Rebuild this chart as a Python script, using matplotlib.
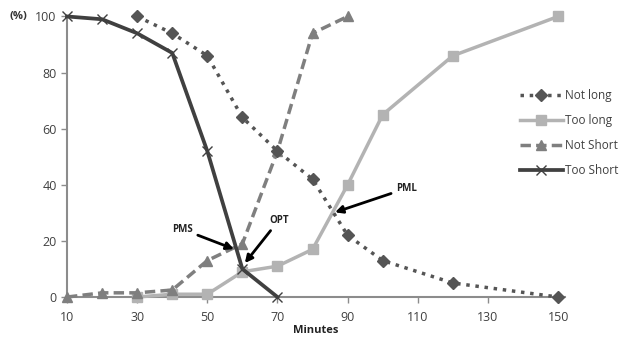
import matplotlib
matplotlib.use('Agg')
import matplotlib.pyplot as plt

plt.rcParams['font.family'] = ['Open Sans', 'DejaVu Sans']

# Minutes on the x axis, percent on y
x_not_long = [30, 40, 50, 60, 70, 80, 90, 100, 120, 150]
not_long = [100, 94, 86, 64, 52, 42, 22, 13, 5, 0]

x_too_long = [30, 40, 50, 60, 70, 80, 90, 100, 120, 150]
too_long = [0, 1, 1, 9, 11, 17, 40, 65, 86, 100]

x_not_short = [10, 20, 30, 40, 50, 60, 70, 80, 90]
not_short = [0, 1.5, 1.5, 2.5, 13, 19, 52, 94, 100]

x_too_short = [10, 20, 30, 40, 50, 60, 70]
too_short = [100, 99, 94, 87, 52, 10, 0]

x_ticks = [10, 30, 50, 70, 90, 110, 130, 150]
y_ticks = [0, 20, 40, 60, 80, 100]

fig = plt.figure(figsize=(6.25, 3.43), dpi=100)
ax = fig.add_axes([0.1072, 0.134, 0.797, 0.818])

ax.plot(x_not_long, not_long, linestyle=':', color='#555555', lw=2.5,
        marker='D', ms=6, label='Not long', clip_on=False, zorder=4)
ax.plot(x_too_long, too_long, linestyle='-', color='#b3b3b3', lw=2.5,
        marker='s', ms=7, label='Too long', clip_on=False, zorder=3)
ax.plot(x_not_short, not_short, linestyle=(0, (3, 1.5)), color='#7f7f7f', lw=2.5,
        marker='^', ms=7, label='Not Short', clip_on=False, zorder=3)
ax.plot(x_too_short, too_short, linestyle='-', color='#404040', lw=2.7,
        marker='x', ms=7, mew=1, label='Too Short', clip_on=False, zorder=5)

arrow = dict(arrowstyle='-|>', color='black', lw=2, mutation_scale=11,
             shrinkA=2, shrinkB=0)
ax.annotate('PMS', xy=(57.6, 17.1), xytext=(42.8, 24.2), ha='center', va='center',
            fontsize=7, fontweight='bold', color='#222222', arrowprops=arrow, zorder=6)
ax.annotate('OPT', xy=(60.7, 12.1), xytext=(70.4, 27.4), ha='center', va='center',
            fontsize=7, fontweight='bold', color='#222222', arrowprops=arrow, zorder=6)
ax.annotate('PML', xy=(86.4, 30.2), xytext=(106.9, 38.8), ha='center', va='center',
            fontsize=7, fontweight='bold', color='#222222', arrowprops=arrow, zorder=6)

ax.set_xlim(10, 152)
ax.set_ylim(0, 100)
ax.set_xticks(x_ticks)
ax.set_yticks(y_ticks)
for s in ['top', 'right']:
    ax.spines[s].set_visible(False)
for s in ['left', 'bottom']:
    ax.spines[s].set_color('#8c8c8c')
    ax.spines[s].set_linewidth(1.5)
ax.tick_params(axis='both', colors='#8c8c8c', labelcolor='#404040', labelsize=9,
               length=4, width=1)
ax.tick_params(axis='x', pad=6)
ax.set_xlabel('Minutes', fontsize=8, fontweight='bold', color='#222222', labelpad=1)
fig.text(0.016, 0.952, '(%)', fontsize=8, fontweight='bold', color='#333333',
         va='center', ha='left')

ax.legend(loc='center left', bbox_to_anchor=(0.832, 0.612), bbox_transform=fig.transFigure,
          frameon=False, fontsize=8.5, handlelength=3.6, labelspacing=1.0,
          handletextpad=0.2, borderpad=0, borderaxespad=0, labelcolor='#404040')

plt.savefig('out.png', dpi=100)
